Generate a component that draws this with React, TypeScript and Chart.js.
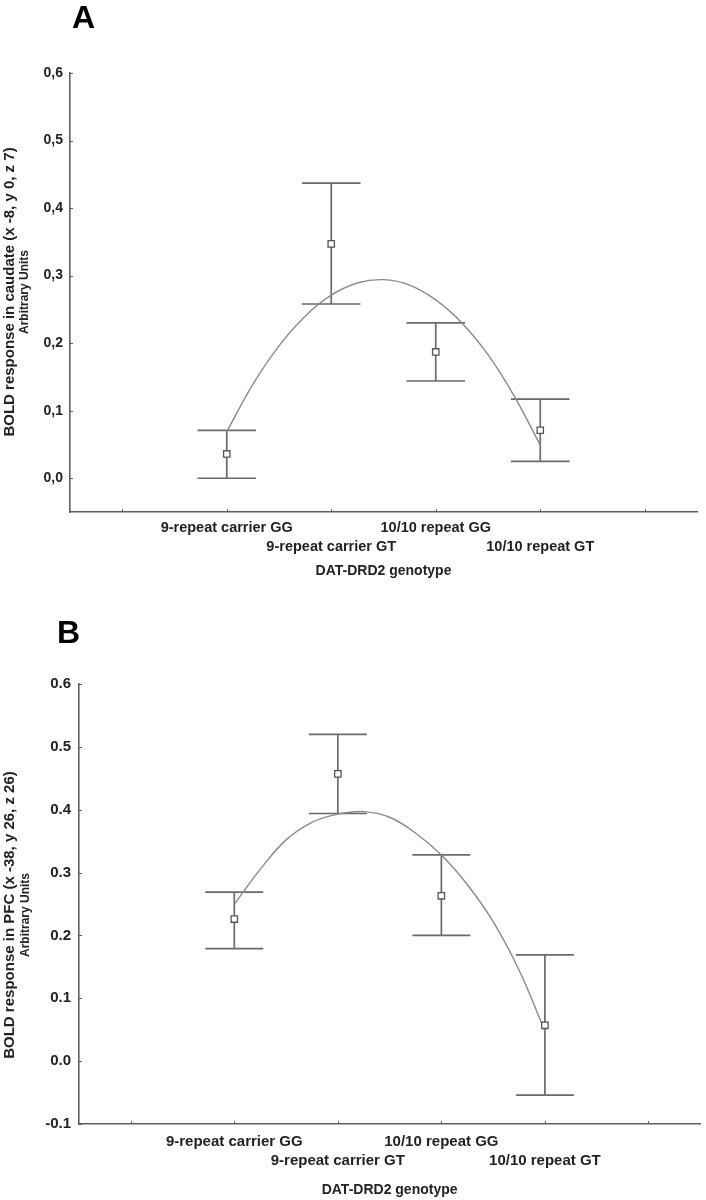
import React, { useEffect, useRef } from 'react';
import { Chart, registerables } from 'chart.js';

Chart.register(...registerables);

// ---------- data ----------
const categories = ['9-repeat carrier GG', '9-repeat carrier GT', '10/10 repeat GG', '10/10 repeat GT'];
const categoryPositions = [1, 2, 3, 4];
const axisTickPositions = [0, 1, 2, 3, 4, 5];
const xAxisTitle = 'DAT-DRD2 genotype';

// Panel A (caudate)
const meanA = [0.036, 0.347, 0.187, 0.071];
const upperA = [0.071, 0.437, 0.23, 0.117];
const lowerA = [0.0, 0.258, 0.144, 0.025];
const curveXA = [1, 1.25, 1.5, 1.75, 2, 2.25, 2.5, 2.75, 3, 3.25, 3.5, 3.75, 4];
const curveYA = [0.069, 0.139, 0.196, 0.24, 0.271, 0.289, 0.294, 0.286, 0.264, 0.23, 0.183, 0.122, 0.049];
const yTicksA = [0, 0.1, 0.2, 0.3, 0.4, 0.5, 0.6];
const yTickLabelsA = ['0,0', '0,1', '0,2', '0,3', '0,4', '0,5', '0,6'];
const yTitleA = ['BOLD response in caudate (x -8, y 0, z 7)', 'Arbitrary Units'];

// Panel B (PFC)
const meanB = [0.226, 0.457, 0.263, 0.057];
const upperB = [0.269, 0.52, 0.328, 0.169];
const lowerB = [0.179, 0.394, 0.2, -0.054];
const curveXB = [1, 1.25, 1.5, 1.75, 2, 2.25, 2.5, 2.75, 3, 3.25, 3.5, 3.75, 4];
const curveYB = [0.2495, 0.305, 0.352, 0.38, 0.393, 0.397, 0.388, 0.363, 0.328, 0.281, 0.222, 0.145, 0.048];
const yTicksB = [-0.1, 0, 0.1, 0.2, 0.3, 0.4, 0.5, 0.6];
const yTickLabelsB = ['-0.1', '0.0', '0.1', '0.2', '0.3', '0.4', '0.5', '0.6'];
const yTitleB = ['BOLD response in PFC (x -38, y 26, z 26)', 'Arbitrary Units'];

// ---------- styles ----------
const FONT = "'Liberation Sans', Arial, sans-serif";
const TEXT = '#222222';
const AXIS = '#5e5e5e';
const BAR = '#6a6a6a';
const CURVE = '#8a8a8a';
const CAP_HALF = 0.28;

type Panel = {
  letter: string;
  letterX: number;
  letterY: number;
  mean: number[];
  upper: number[];
  lower: number[];
  curveX: number[];
  curveY: number[];
  yTicks: number[];
  yTickLabels: string[];
  yMin: number;
  yMax: number;
  yTitle: string[];
  yTitleX: [number, number];
  yTitleY: number;
  padTop: number;
  padRight: number;
  yWidth: number;
  yTickPad: number;
  yTickFont: number;
  xHeight: number;
  xTickPad: number;
  xTickFont: number;
  xTickLine: number;
  xTitlePadBottom: number;
};

function makeConfig(p: Panel): any {
  const decor = {
    id: 'decor',
    beforeDatasetsDraw(chart: any) {
      const ctx = chart.ctx;
      const xs = chart.scales.x;
      const ys = chart.scales.y;
      ctx.save();
      ctx.strokeStyle = BAR;
      ctx.lineWidth = 1.7;
      ctx.lineCap = 'butt';
      categoryPositions.forEach((pos, i) => {
        const x = xs.getPixelForValue(pos);
        const yu = ys.getPixelForValue(p.upper[i]);
        const yl = ys.getPixelForValue(p.lower[i]);
        const xl = xs.getPixelForValue(pos - CAP_HALF);
        const xr = xs.getPixelForValue(pos + CAP_HALF);
        ctx.beginPath();
        ctx.moveTo(x, yu);
        ctx.lineTo(x, yl);
        ctx.moveTo(xl, yu);
        ctx.lineTo(xr, yu);
        ctx.moveTo(xl, yl);
        ctx.lineTo(xr, yl);
        ctx.stroke();
      });
      // small inward tick marks
      ctx.strokeStyle = AXIS;
      ctx.lineWidth = 1;
      const ax = chart.chartArea.left;
      const ay = chart.chartArea.bottom;
      ctx.beginPath();
      p.yTicks.forEach((v) => {
        const y = Math.round(ys.getPixelForValue(v)) + 0.5;
        ctx.moveTo(ax, y);
        ctx.lineTo(ax + 3, y);
      });
      axisTickPositions.forEach((v) => {
        const x = Math.round(xs.getPixelForValue(v)) + 0.5;
        ctx.moveTo(x, ay);
        ctx.lineTo(x, ay - 3);
      });
      ctx.stroke();
      ctx.restore();
    },
    afterDraw(chart: any) {
      const ctx = chart.ctx;
      ctx.save();
      ctx.fillStyle = '#000';
      ctx.font = `bold 32px ${FONT}`;
      ctx.textAlign = 'left';
      ctx.textBaseline = 'alphabetic';
      ctx.fillText(p.letter, p.letterX, p.letterY);
      ctx.fillStyle = TEXT;
      ctx.textAlign = 'center';
      ctx.textBaseline = 'middle';
      ctx.translate(p.yTitleX[0], p.yTitleY);
      ctx.rotate(-Math.PI / 2);
      ctx.font = `bold 15px ${FONT}`;
      ctx.fillText(p.yTitle[0], 0, 0);
      ctx.restore();
      ctx.save();
      ctx.fillStyle = TEXT;
      ctx.textAlign = 'center';
      ctx.textBaseline = 'middle';
      ctx.translate(p.yTitleX[1], p.yTitleY);
      ctx.rotate(-Math.PI / 2);
      ctx.font = `bold 12px ${FONT}`;
      ctx.fillText(p.yTitle[1], 0, 0);
      ctx.restore();
    },
  };

  return {
    type: 'line',
    data: {
      datasets: [
        {
          label: 'fit',
          data: p.curveX.map((x, i) => ({ x, y: p.curveY[i] })),
          borderColor: CURVE,
          borderWidth: 1.4,
          pointRadius: 0,
          tension: 0.4,
          fill: false,
          order: 2,
        },
        {
          label: 'mean',
          data: categoryPositions.map((x, i) => ({ x, y: p.mean[i] })),
          showLine: false,
          pointStyle: 'rect',
          pointRadius: 4.5,
          pointBackgroundColor: '#ffffff',
          pointBorderColor: '#555555',
          pointBorderWidth: 1.3,
          order: 1,
        },
      ],
    },
    options: {
      animation: false,
      responsive: false,
      devicePixelRatio: 1,
      layout: { padding: { top: p.padTop, right: p.padRight, left: 0, bottom: 0 } },
      plugins: { legend: { display: false }, tooltip: { enabled: false } },
      scales: {
        x: {
          type: 'linear',
          min: -0.5,
          max: 5.5,
          afterBuildTicks: (s: any) => {
            s.ticks = axisTickPositions.map((v) => ({ value: v }));
          },
          afterFit: (s: any) => {
            s.height = p.xHeight;
          },
          grid: { display: false, drawTicks: false },
          border: { display: true, color: AXIS, width: 1.6 },
          ticks: {
            autoSkip: false,
            maxRotation: 0,
            minRotation: 0,
            padding: p.xTickPad,
            color: TEXT,
            font: { family: FONT, size: p.xTickFont, weight: 'bold', lineHeight: `${p.xTickLine}px` },
            callback: (value: number) => {
              const idx = categoryPositions.indexOf(value);
              if (idx < 0) return '';
              return idx % 2 === 0 ? categories[idx] : ['', categories[idx]];
            },
          },
          title: {
            display: true,
            text: xAxisTitle,
            color: TEXT,
            font: { family: FONT, size: 14, weight: 'bold', lineHeight: 1.2 },
            padding: { top: 0, bottom: p.xTitlePadBottom },
          },
        },
        y: {
          type: 'linear',
          min: p.yMin,
          max: p.yMax,
          afterBuildTicks: (s: any) => {
            s.ticks = p.yTicks.map((v) => ({ value: v }));
          },
          afterFit: (s: any) => {
            s.width = p.yWidth;
          },
          grid: { display: false, drawTicks: false },
          border: { display: true, color: AXIS, width: 1.6 },
          ticks: {
            padding: p.yTickPad,
            color: TEXT,
            font: { family: FONT, size: p.yTickFont, weight: 'bold' },
            callback: (value: number) => {
              const idx = p.yTicks.indexOf(value);
              return idx < 0 ? '' : p.yTickLabels[idx];
            },
          },
        },
      },
    },
    plugins: [decor],
  };
}

const panelA: Panel = {
  letter: 'A',
  letterX: 72,
  letterY: 28,
  mean: meanA,
  upper: upperA,
  lower: lowerA,
  curveX: curveXA,
  curveY: curveYA,
  yTicks: yTicksA,
  yTickLabels: yTickLabelsA,
  yMin: -0.05,
  yMax: 0.6,
  yTitle: yTitleA,
  yTitleX: [10, 25],
  yTitleY: 292,
  padTop: 73,
  padRight: 9,
  yWidth: 70,
  yTickPad: 7,
  yTickFont: 14,
  xHeight: 88,
  xTickPad: 6.5,
  xTickFont: 14.5,
  xTickLine: 18.7,
  xTitlePadBottom: 20,
};

const panelB: Panel = {
  letter: 'B',
  letterX: 57,
  letterY: 43,
  mean: meanB,
  upper: upperB,
  lower: lowerB,
  curveX: curveXB,
  curveY: curveYB,
  yTicks: yTicksB,
  yTickLabels: yTickLabelsB,
  yMin: -0.1,
  yMax: 0.6,
  yTitle: yTitleB,
  yTitleX: [10, 26],
  yTitleY: 315,
  padTop: 84,
  padRight: 1,
  yWidth: 79,
  yTickPad: 8,
  yTickFont: 15,
  xHeight: 76,
  xTickPad: 8,
  xTickFont: 15,
  xTickLine: 19.3,
  xTitlePadBottom: 1.5,
};

function ChartPanel({ panel, top }: { panel: Panel; top: number }) {
  const ref = useRef<HTMLCanvasElement | null>(null);
  useEffect(() => {
    if (!ref.current) return;
    const chart = new Chart(ref.current, makeConfig(panel));
    return () => chart.destroy();
  }, [panel]);
  return (
    <canvas
      ref={ref}
      width={706}
      height={600}
      style={{ position: 'absolute', left: 0, top, width: 706, height: 600, display: 'block' }}
    />
  );
}

export default function App() {
  return (
    <div style={{ position: 'absolute', left: 0, top: 0, width: 706, height: 1200, background: '#ffffff' }}>
      <ChartPanel panel={panelA} top={0} />
      <ChartPanel panel={panelB} top={600} />
    </div>
  );
}
